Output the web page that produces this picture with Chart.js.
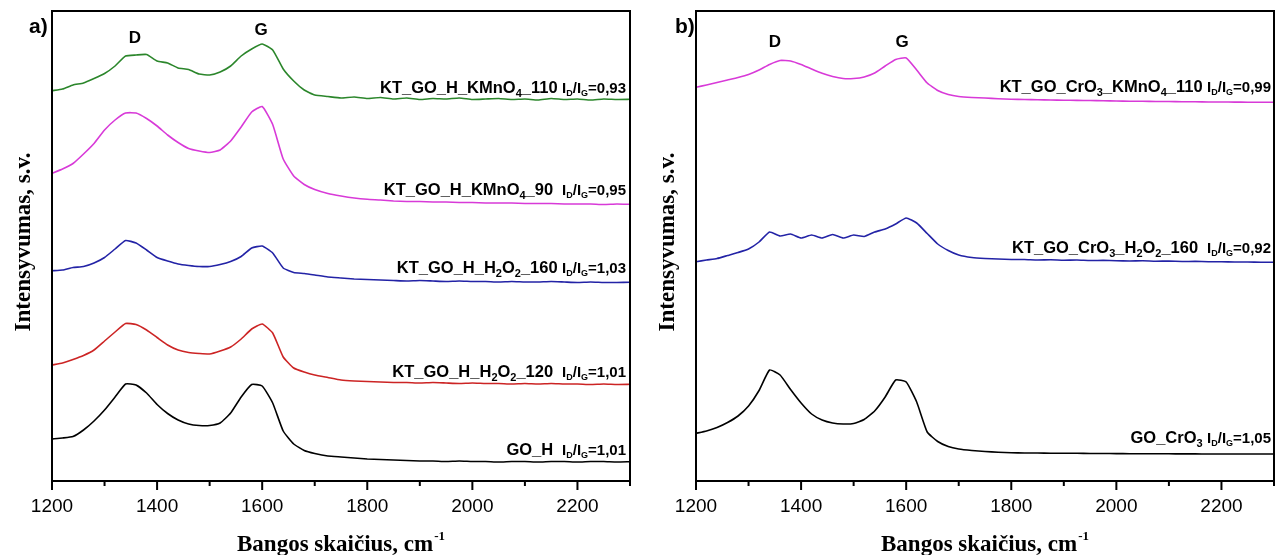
<!DOCTYPE html>
<html>
<head>
<meta charset="utf-8">
<script src="https://cdn.jsdelivr.net/npm/chart.js@4.4.1/dist/chart.umd.min.js"></script>
<style>
  html, body { margin: 0; padding: 0; background: #fff; }
  #wrap { position: relative; width: 1275px; height: 555px; overflow: hidden; }
  canvas { position: absolute; top: 0; }
</style>
</head>
<body>
<div id="wrap">
  <canvas id="chartA" width="640" height="555" style="left:0"></canvas>
  <canvas id="chartB" width="635" height="555" style="left:640px"></canvas>
</div>
<script>
// wavenumbers, cm-1
const waveNumbers = [1200,1220,1240,1260,1280,1300,1320,1340,1360,1380,1400,1420,1440,1460,1480,1500,
  1520,1540,1560,1580,1600,1620,1640,1660,1680,1700,
  1725,1750,1775,1800,1825,1850,1875,1900,1925,1950,1975,2000,2025,2050,2075,2100,2125,2150,2175,2200,2225,2250,2275,2300];

// panel a) (intensities in arbitrary units, offset per spectrum)
const goH = [42,43,44.5,51,60,71,84,97,96,88,76.5,67.5,61,57,55.5,55.5,58,68,84,96.5,95,78,50,37,30.5,27.5,
  25,24,23,22,21.5,21,20.5,20,20,19.5,20,19.5,19.5,19,19.5,19.5,19,19.5,19.5,19,19.5,19.5,19,19.3];
const ktH2O2_120 = [116,118,121.5,125.5,131,140,149,157.5,156.5,151,143.5,136,131,128.5,127.5,127,130,134,142,152,157,148,124,113,109,106,
  103.5,101,100,99.5,99,98.5,98.5,98,98.5,98,97.5,98,97.5,97.5,97,97.5,97,97.5,97,97,96.5,97,96.5,96.7];
const ktH2O2_160 = [210.3,211,213.5,214.5,218,223.5,232,240.5,238,231,223.5,220,217,215.5,214.5,214.5,216.5,219.5,224.5,233,235,228,213,208.5,207.5,206,
  204,203,202,201.5,201,200.5,200,200.5,200,199.5,200,199.5,199.5,199,199.5,199,199,199.5,199,198.5,199,198.5,198.5,198.7];
const ktKMnO4_90 = [307.7,312,317.5,327,337.5,351,361,368,368,362.5,355,346,338.5,332.5,330,328.5,331,340,354,369,374.5,356.5,322,305,296.5,291.5,
  287.5,285,283,281.7,281,280,279.5,279.5,279,279,278.5,278.5,278,278,278,277.5,277.5,277.5,277,277,277,276.5,277,276.7];
const ktKMnO4_110 = [390.3,392,396,398,402.5,407.5,415,425,426,426.5,420,418,413,411.5,407,406,409,415,425,432,437,431,412,400,391,386,
  384.5,383,384,382.5,383.5,382,383,381.5,382.5,382,383,381.5,382,382.5,381.5,382,381,382.5,381.5,382,381,382,381.5,381.7];

// panel b)
const goCrO3 = [47.7,50,53.5,58.5,65,75,90.5,111,106,91.5,78,67,61,58,57,57.5,61.5,70,84,101,99,79,49,39.5,34.5,32,
  30.5,29.5,28.8,28.3,28,28,27.8,27.7,27.7,27.5,27.5,27.4,27.3,27.3,27.2,27.2,27.1,27.1,27,27,27,27,27,27];
const ktCrO3H2O2_160 = [219.3,221,222.5,225.5,228.5,232,239,249,245,247,243,246,243,246.5,243,246,244.5,249,252,257,263,258,247.5,237,230.5,226,
  223.5,222.5,222,221.5,221.5,221,221.2,220.8,221,220.5,220.6,220.3,220,220.2,219.8,219.9,219.5,219.6,219.3,219.2,219,219,218.8,218.7];
const ktCrO3KMnO4_110 = [393.7,396,398.5,401,403.5,406.5,411,416.5,420.5,420,416.5,412,407.7,404.5,402.5,402.5,404,408,415,421.5,423,411,398,390.5,386.5,384.5,
  383.5,383,382.3,381.8,381.5,381.2,381,380.8,380.6,380.5,380.3,380,379.8,379.8,379.5,379.5,379.3,379.2,379,379,378.9,378.8,378.8,378.7];

const majorTicks = [1200,1400,1600,1800,2000,2200];
const minorTicks = [1300,1500,1700,1900,2100,2300];

// sample names ({} = subscript) and ID/IG ratios
const namesA = ['KT_GO_H_KMnO{4}_110', 'KT_GO_H_KMnO{4}_90', 'KT_GO_H_H{2}O{2}_160', 'KT_GO_H_H{2}O{2}_120', 'GO_H'];
const ratiosA = ['0,93', '0,95', '1,03', '1,01', '1,01'];
const namesB = ['KT_GO_CrO{3}_KMnO{4}_110', 'KT_GO_CrO{3}_H{2}O{2}_160', 'GO_CrO{3}'];
const ratiosB = ['0,99', '0,92', '1,05'];

const SANS = '"Liberation Sans", Arial, sans-serif';
const SERIF = '"Liberation Serif", "Times New Roman", serif';

function segments(name, ratio, gap) {
  const segs = [];
  name.split(/(\{[^}]*\})/).forEach(p => {
    if (!p) return;
    if (p[0] === '{') segs.push({ t: p.slice(1, -1), f: 'bold 11px ' + SANS, dy: 4 });
    else segs.push({ t: p, f: 'bold 16.5px ' + SANS, dy: 0 });
  });
  segs.push({ t: gap, f: 'bold 16px ' + SANS, dy: 0 });
  segs.push({ t: 'I', f: 'bold 15px ' + SANS, dy: 0 });
  segs.push({ t: 'D', f: 'bold 9px ' + SANS, dy: 3 });
  segs.push({ t: '/I', f: 'bold 15px ' + SANS, dy: 0 });
  segs.push({ t: 'G', f: 'bold 9px ' + SANS, dy: 3 });
  segs.push({ t: '=' + ratio, f: 'bold 15px ' + SANS, dy: 0 });
  return segs;
}

function drawRich(ctx, segs, right, base) {
  let w = 0;
  segs.forEach(s => { ctx.font = s.f; s.w = ctx.measureText(s.t).width; w += s.w; });
  let x = right - w;
  ctx.textAlign = 'left';
  ctx.textBaseline = 'alphabetic';
  segs.forEach(s => { ctx.font = s.f; ctx.fillText(s.t, x, base + s.dy); x += s.w; });
}

function decor(p) {
  return {
    id: 'decor',
    afterDraw(chart) {
      const ctx = chart.ctx, a = chart.chartArea, xs = chart.scales.x;
      ctx.save();
      ctx.strokeStyle = '#000';
      ctx.lineWidth = 2;
      ctx.strokeRect(a.left, a.top, a.right - a.left, a.bottom - a.top);
      ctx.beginPath();
      majorTicks.forEach(v => { const x = xs.getPixelForValue(v); ctx.moveTo(x, a.bottom); ctx.lineTo(x, a.bottom + 9); });
      minorTicks.forEach(v => { const x = xs.getPixelForValue(v); ctx.moveTo(x, a.bottom); ctx.lineTo(x, a.bottom + 5); });
      ctx.stroke();

      ctx.fillStyle = '#000';
      // panel letter
      ctx.font = 'bold 21px ' + SANS;
      ctx.textAlign = 'left';
      ctx.textBaseline = 'alphabetic';
      ctx.fillText(p.letter, p.letterX, 33);
      // D and G bands
      ctx.font = 'bold 17px ' + SANS;
      ctx.textAlign = 'center';
      ctx.fillText('D', p.dX, p.dY);
      ctx.fillText('G', p.gX, p.gY);

      // y title
      ctx.save();
      ctx.translate(p.yTitleX, 242);
      ctx.rotate(-Math.PI / 2);
      ctx.font = 'bold 23px ' + SERIF;
      ctx.textAlign = 'center';
      ctx.fillText('Intensyvumas, s.v.', 0, 0);
      ctx.restore();

      // x title with superscript
      ctx.font = 'bold 23px ' + SERIF;
      const main = 'Bangos skaičius, cm';
      const mw = ctx.measureText(main).width;
      ctx.font = 'bold 13px ' + SERIF;
      const sw = ctx.measureText('-1').width;
      const cx = (a.left + a.right) / 2;
      const x0 = cx - (mw + sw + 1) / 2;
      ctx.textAlign = 'left';
      ctx.font = 'bold 23px ' + SERIF;
      ctx.fillText(main, x0, 551);
      ctx.font = 'bold 13px ' + SERIF;
      ctx.fillText('-1', x0 + mw + 1, 540);

      // curve labels
      p.names.forEach((n, i) => {
        drawRich(ctx, segments(n, p.ratios[i], p.gaps[i]), p.labelRight, p.labelY[i]);
      });
      ctx.restore();
    }
  };
}

function makeChart(id, series, padLeft, padRight, panel) {
  return new Chart(document.getElementById(id), {
    type: 'line',
    data: {
      datasets: series.map(s => ({
        data: waveNumbers.map((w, i) => ({ x: w, y: s.values[i] })),
        borderColor: s.color,
        borderWidth: 1.6,
        pointRadius: 0,
        tension: 0.15,
        fill: false
      }))
    },
    options: {
      responsive: false,
      animation: false,
      devicePixelRatio: 1,
      layout: { padding: { left: padLeft, right: padRight, top: 11, bottom: 0 } },
      plugins: { legend: { display: false }, tooltip: { enabled: false } },
      scales: {
        x: {
          type: 'linear',
          min: 1200,
          max: 2300,
          grid: { display: false, drawTicks: false },
          border: { display: false },
          ticks: {
            stepSize: 200,
            includeBounds: false,
            autoSkip: false,
            maxRotation: 0,
            padding: 14,
            color: '#000',
            font: { family: SANS, size: 19 },
            callback: v => String(v)
          },
          afterFit(s) { s.height = 74; }
        },
        y: { display: false, min: 0, max: 470 }
      }
    },
    plugins: [decor(panel)]
  });
}

makeChart('chartA', [
  { values: goH, color: '#000000' },
  { values: ktH2O2_120, color: '#cc2424' },
  { values: ktH2O2_160, color: '#2323a6' },
  { values: ktKMnO4_90, color: '#d83ad8' },
  { values: ktKMnO4_110, color: '#2b862b' }
], 52, 10, {
  letter: 'a)', letterX: 29, dX: 135, dY: 43, gX: 261, gY: 35, yTitleX: 30,
  names: namesA, ratios: ratiosA, gaps: [' ', '  ', ' ', '  ', '  '],
  labelRight: 626, labelY: [93, 195, 273, 377, 455]
});

makeChart('chartB', [
  { values: goCrO3, color: '#000000' },
  { values: ktCrO3H2O2_160, color: '#2323a6' },
  { values: ktCrO3KMnO4_110, color: '#d83ad8' }
], 56, 1, {
  letter: 'b)', letterX: 35, dX: 135, dY: 47, gX: 262, gY: 47, yTitleX: 34,
  names: namesB, ratios: ratiosB, gaps: [' ', '  ', ' '],
  labelRight: 631, labelY: [91.5, 253, 443]
});
</script>
</body>
</html>
